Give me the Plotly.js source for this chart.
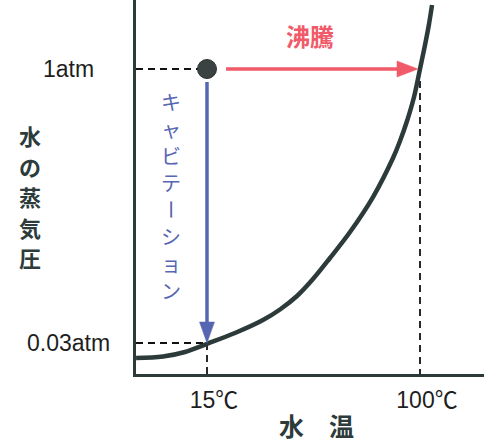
<!DOCTYPE html>
<html><head><meta charset="utf-8">
<script src="https://cdn.plot.ly/plotly-3.0.1.min.js"></script>
<style>html,body{margin:0;padding:0;background:#fff}</style>
</head><body><div id="chart" style="width:484px;height:443px"></div>
<script>
// vapour-pressure curve (temperature in ℃, pressure in atm; schematic)
const temperatures = [-13.3, -2.56, 6.22, 15, 26.17, 37.35, 44.13, 50.92, 57.3, 64.08, 72.07, 81.25, 89.23, 92.02, 94.82, 97.61, 100, 102.0, 103.6, 104.8];
const pressures    = [0.02475, 0.02524, 0.02674, 0.0297, 0.03409, 0.04025, 0.04606, 0.05474, 0.06804, 0.08904, 0.1242, 0.1943, 0.32, 0.3979, 0.514, 0.6991, 1.0, 1.359, 1.779, 2.269];

const tickTemps = [15, 100];
const tickTempLabels = ['15℃', '100℃'];
const tickPressures = [0.03, 1];
const tickPressureLabels = ['0.03atm', '1atm'];

const statePoint = {t: 15, p: 1};          // the dot
const boilingArrow = {from: 22.6, to: 99.2, p: 1};
const cavitationArrow = {from: 0.847, to: 0.03, t: 15};
const boilingLabel = '沸騰';
const cavitationLabel = 'キャビテーション';
const xTitle = '水　温';
const yTitle = '水の蒸気圧';

const W = 484, H = 443;
const M = {l: 136, r: 0, t: 0, b: 69};
const plotW = W - M.l - M.r, plotH = H - M.t - M.b;
const xRange = [-13.33, 125.54];
const yRange = [-1.6952, 0.3835]; // log10 atm
const pxPerT = plotW / (xRange[1] - xRange[0]);
const pxPerDec = plotH / (yRange[1] - yRange[0]);
const pMin = Math.pow(10, yRange[0]);

const dark = '#2c3a3a';
const red = '#f05a69';
const blue = '#5766b2';
const dashStyle = {color: '#111', width: 1.8, dash: '7px,5px'};

const traces = [];
// dashed guides
traces.push({x: [xRange[0], statePoint.t], y: [statePoint.p, statePoint.p], mode: 'lines', line: dashStyle, hoverinfo: 'skip'});
traces.push({x: [xRange[0], cavitationArrow.t], y: [cavitationArrow.to, cavitationArrow.to], mode: 'lines', line: dashStyle, hoverinfo: 'skip'});
traces.push({x: [cavitationArrow.t, cavitationArrow.t], y: [cavitationArrow.to, pMin], mode: 'lines', line: dashStyle, hoverinfo: 'skip'});
traces.push({x: [tickTemps[1], tickTemps[1]], y: [tickPressures[1], pMin], mode: 'lines', line: dashStyle, hoverinfo: 'skip'});
// curve
traces.push({x: temperatures, y: pressures, mode: 'lines', line: {color: dark, width: 4.5, shape: 'spline', smoothing: 1}, hoverinfo: 'skip'});

// red (boiling) arrow
const headLen = 21, headHalf = 8;
const rBase = boilingArrow.to - headLen / pxPerT;
traces.push({x: [boilingArrow.from, rBase + 1], y: [boilingArrow.p, boilingArrow.p], mode: 'lines', line: {color: red, width: 3.5}, hoverinfo: 'skip'});
const dy = headHalf / pxPerDec;
const lp = Math.log10(boilingArrow.p);
traces.push({x: [boilingArrow.to, rBase, rBase, boilingArrow.to],
  y: [boilingArrow.p, Math.pow(10, lp + dy), Math.pow(10, lp - dy), boilingArrow.p],
  mode: 'lines', fill: 'toself', fillcolor: red, line: {color: red, width: 0.5}, hoverinfo: 'skip'});

// blue (cavitation) arrow
const bHalf = 7.5;
const lt = Math.log10(cavitationArrow.to);
const bBase = Math.pow(10, lt + headLen / pxPerDec);
traces.push({x: [cavitationArrow.t, cavitationArrow.t], y: [cavitationArrow.from, Math.pow(10, lt + (headLen - 1) / pxPerDec)], mode: 'lines', line: {color: blue, width: 3.5}, hoverinfo: 'skip'});
const dx = bHalf / pxPerT;
traces.push({x: [cavitationArrow.t, cavitationArrow.t - dx, cavitationArrow.t + dx, cavitationArrow.t],
  y: [cavitationArrow.to, bBase, bBase, cavitationArrow.to],
  mode: 'lines', fill: 'toself', fillcolor: blue, line: {color: blue, width: 0.5}, hoverinfo: 'skip'});

// dot
traces.push({x: [statePoint.t], y: [statePoint.p], mode: 'markers', marker: {size: 19, color: '#3a4242', line: {color: '#2a3232', width: 1}}, hoverinfo: 'skip'});

const cjk = '"Noto Sans CJK JP", "Noto Sans", sans-serif';
const latin = '"Liberation Sans", Arial, "Noto Sans CJK JP", sans-serif';

const annotations = [];
tickPressures.forEach((p, i) => annotations.push({
  xref: 'paper', yref: 'y', x: (68 - M.l) / plotW, y: Math.log10(p), xanchor: 'center', yanchor: 'middle',
  text: tickPressureLabels[i], showarrow: false, font: {family: latin, size: 23, color: '#1e1e1e'}
}));
yTitle.split('').forEach((ch, i) => annotations.push({
  xref: 'paper', yref: 'paper', x: (30 - M.l) / plotW, y: 1 - (135 + i * 30.5) / plotH, xanchor: 'center', yanchor: 'middle',
  text: '<b>' + ch + '</b>', showarrow: false, borderpad: 0, font: {family: cjk, size: 22, color: '#2d3b3b'}
}));
annotations.push({xref: 'paper', yref: 'paper', x: (316 - M.l) / plotW, y: (374 - 425) / plotH, xanchor: 'center', yanchor: 'middle',
  text: '<b>' + xTitle + '</b>', showarrow: false, font: {family: cjk, size: 25, color: '#2d3b3b'}});
annotations.push({xref: 'paper', yref: 'paper', x: (310 - M.l) / plotW, y: 1 - 36 / plotH, xanchor: 'center', yanchor: 'middle',
  text: '<b>' + boilingLabel + '</b>', showarrow: false, font: {family: cjk, size: 24, color: red}});
cavitationLabel.split('').forEach((ch, i) => annotations.push({
  xref: 'paper', yref: 'paper', x: (171 - M.l) / plotW, y: 1 - (102 + i * 26.9) / plotH, xanchor: 'center', yanchor: 'middle',
  text: ch, textangle: ch === 'ー' ? 90 : 0, showarrow: false, borderpad: 0, font: {family: cjk, size: 20, color: blue}
}));

const layout = {
  width: W, height: H, margin: M, showlegend: false,
  paper_bgcolor: '#fff', plot_bgcolor: '#fff',
  xaxis: {range: xRange, showline: true, linewidth: 3, linecolor: dark, showgrid: false, zeroline: false,
    ticks: '', tickvals: tickTemps, ticktext: tickTempLabels, ticklabelstandoff: 3, ticklabelshift: 7,
    tickfont: {family: latin, size: 23, color: '#1e1e1e'}, fixedrange: true},
  yaxis: {type: 'log', range: yRange, showline: true, linewidth: 3, linecolor: dark, showgrid: false, zeroline: false,
    ticks: '', showticklabels: false, fixedrange: true},
  annotations: annotations
};
Plotly.newPlot('chart', traces, layout, {staticPlot: true, displayModeBar: false});
</script></body></html>
